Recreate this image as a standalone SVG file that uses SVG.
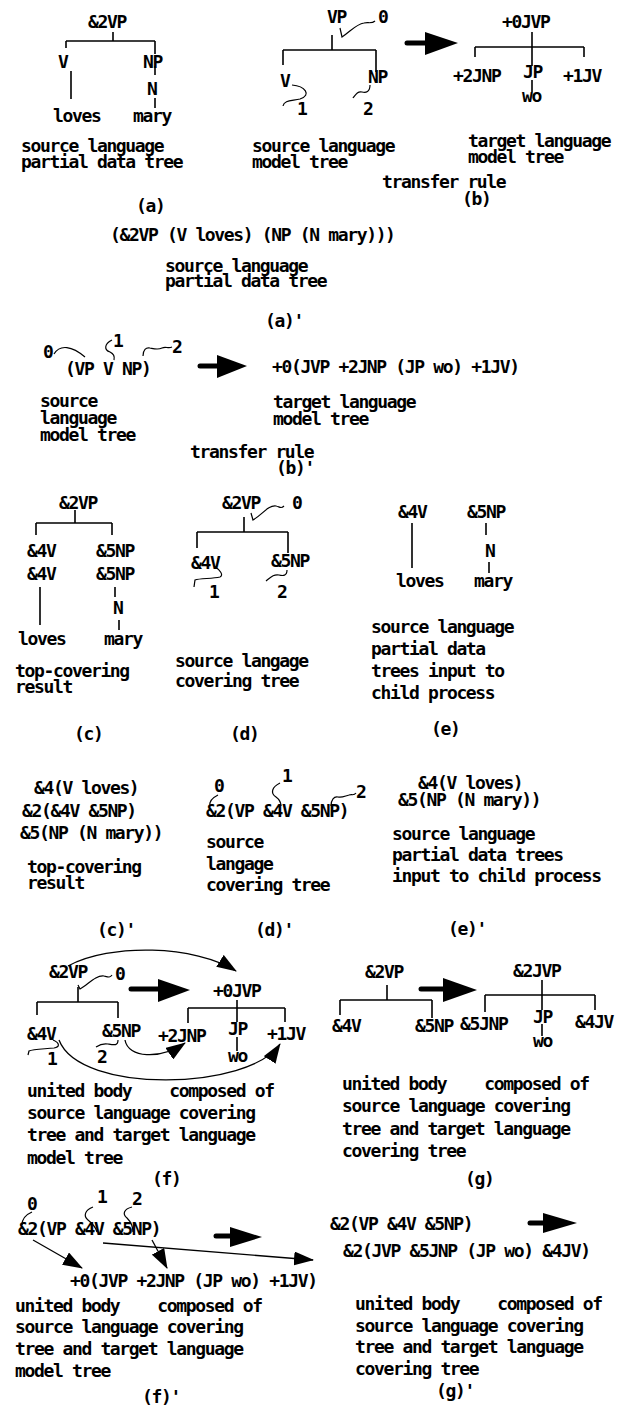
<svg xmlns="http://www.w3.org/2000/svg" width="621" height="1405" viewBox="0 0 621 1405">
<style>
.t{font-family:"DejaVu Sans Mono","Liberation Mono",monospace;font-size:18px;font-weight:bold;letter-spacing:-1.35px;fill:#000}
.l{stroke:#000;stroke-width:1.6;fill:none}
.s{stroke:#000;stroke-width:1.2;fill:none}
.sh{stroke:#000;stroke-width:5;fill:none;stroke-linecap:round}
.hd{fill:#000}
.ca{stroke:#000;stroke-width:1.3;fill:none;marker-end:url(#ah)}
</style>
<defs>
<marker id="ah" markerUnits="userSpaceOnUse" markerWidth="20" markerHeight="14" viewBox="0 0 20 14" refX="19" refY="7" orient="auto">
<path d="M0,0 L20,7 L0,14 z" fill="#000"/>
</marker>
</defs>
<rect width="621" height="1405" fill="#fff"/>

<!-- (a) -->
<g id="fig-a">
<text class="t" x="88" y="28">&amp;2VP</text>
<path class="l" d="M113,32 V41 M66,41 H155 M66,41 V48 M155,41 V54 M71,71 V99 M155,66 V75 M155,98 V108"/>
<text class="t" x="58" y="68">V</text>
<text class="t" x="143" y="68">NP</text>
<text class="t" x="147" y="95">N</text>
<text class="t" x="53" y="122">loves</text>
<text class="t" x="133" y="122">mary</text>
<text class="t" x="21" y="152">source language</text>
<text class="t" x="21" y="168">partial data tree</text>
<text class="t" x="136" y="212">(a)</text>
</g>

<!-- (b) source model tree -->
<g id="fig-b-src">
<text class="t" x="327" y="23">VP</text>
<text class="t" x="378" y="23">0</text>
<path class="s" d="M340,28 L342,37 C350,32 356,24 364,23 C368,22 372,24 375,21"/>
<path class="l" d="M332,35 V50 M283,50 H376 M283,50 V65 M376,50 V72"/>
<text class="t" x="280" y="87">V</text>
<text class="t" x="368" y="83">NP</text>
<path class="s" d="M292,85 C305,86 312,95 300,99 C292,101 284,100 283,106"/>
<text class="t" x="297" y="115">1</text>
<path class="s" d="M370,85 C370,92 366,93 362,92 C358,91 356,94 353,98"/>
<text class="t" x="363" y="115">2</text>
<text class="t" x="252" y="152">source language</text>
<text class="t" x="252" y="168">model tree</text>
</g>

<!-- (b) target model tree -->
<g id="fig-b-tgt">
<text class="t" x="502" y="28">+0JVP</text>
<path class="l" d="M532,32 V66 M532,80 V92 M475,47 H584 M475,47 V57 M584,47 V57"/>
<text class="t" x="523" y="78">JP</text>
<text class="t" x="453" y="82">+2JNP</text>
<text class="t" x="563" y="82">+1JV</text>
<text class="t" x="522" y="102">wo</text>
<text class="t" x="468" y="147">target language</text>
<text class="t" x="468" y="163">model tree</text>
<text class="t" x="382" y="188">transfer rule</text>
<text class="t" x="462" y="205">(b)</text>
</g>

<!-- (a)' -->
<g id="fig-a2">
<text class="t" x="110" y="241">(&amp;2VP (V loves) (NP (N mary)))</text>
<text class="t" x="165" y="272">source language</text>
<text class="t" x="165" y="287">partial data tree</text>
<text class="t" x="265" y="327">(a)'</text>
</g>

<!-- (b)' -->
<g id="fig-b2-src">
<text class="t" x="43" y="358">0</text>
<path class="s" d="M54,354 C60,344 72,346 85,357"/>
<text class="t" x="65" y="375">(VP V NP)</text>
<text class="t" x="113" y="347">1</text>
<path class="s" d="M112,340 C104,344 104,350 110,352 C114,354 115,356 114,360"/>
<text class="t" x="172" y="353">2</text>
<path class="s" d="M143,356 C143,350 146,347 150,348 C155,349 158,350 162,348 C166,346 168,349 172,347"/>
<text class="t" x="40" y="407">source</text>
<text class="t" x="40" y="424">language</text>
<text class="t" x="40" y="441">model tree</text>
</g>
<g id="fig-b2-tgt">
<text class="t" x="272" y="373">+0(JVP +2JNP (JP wo) +1JV)</text>
<text class="t" x="273" y="408">target language</text>
<text class="t" x="273" y="425">model tree</text>
<text class="t" x="190" y="458">transfer rule</text>
<text class="t" x="276" y="474">(b)'</text>
</g>

<!-- (c) -->
<g id="fig-c">
<text class="t" x="59" y="509">&amp;2VP</text>
<path class="l" d="M75,510 V523 M36,523 H112 M36,523 V535 M112,523 V535 M40,587 V625 M115,587 V597 M119,620 V630"/>
<text class="t" x="27" y="557">&amp;4V</text>
<text class="t" x="96" y="557">&amp;5NP</text>
<text class="t" x="27" y="580">&amp;4V</text>
<text class="t" x="96" y="580">&amp;5NP</text>
<text class="t" x="113" y="614">N</text>
<text class="t" x="18" y="645">loves</text>
<text class="t" x="104" y="645">mary</text>
<text class="t" x="15" y="677">top-covering</text>
<text class="t" x="15" y="693">result</text>
<text class="t" x="74" y="740">(c)</text>
</g>

<!-- (d) -->
<g id="fig-d">
<text class="t" x="222" y="509">&amp;2VP</text>
<text class="t" x="292" y="509">0</text>
<path class="s" d="M251,513 L253,520 C262,515 268,505 276,506 C280,507 281,509 284,506"/>
<path class="l" d="M244,517 V532 M197,532 H288 M197,532 V548 M288,532 V553"/>
<text class="t" x="191" y="569">&amp;4V</text>
<text class="t" x="271" y="567">&amp;5NP</text>
<path class="s" d="M214,566 C220,570 224,575 220,577 C212,579 200,578 195,580 L194,587"/>
<text class="t" x="209" y="598">1</text>
<path class="s" d="M287,570 C287,576 283,576 279,575 C274,574 271,577 266,581"/>
<text class="t" x="277" y="598">2</text>
<text class="t" x="175" y="667">source langage</text>
<text class="t" x="175" y="687">covering tree</text>
<text class="t" x="230" y="740">(d)</text>
</g>

<!-- (e) -->
<g id="fig-e">
<text class="t" x="398" y="518">&amp;4V</text>
<text class="t" x="467" y="518">&amp;5NP</text>
<path class="l" d="M412,523 V568 M486,523 V535 M489,562 V573"/>
<text class="t" x="485" y="557">N</text>
<text class="t" x="396" y="587">loves</text>
<text class="t" x="474" y="587">mary</text>
<text class="t" x="371" y="633">source language</text>
<text class="t" x="371" y="655">partial data</text>
<text class="t" x="371" y="677">trees input to</text>
<text class="t" x="371" y="699">child process</text>
<text class="t" x="431" y="735">(e)</text>
</g>

<!-- (c)' -->
<g id="fig-c2">
<text class="t" x="34" y="794">&amp;4(V loves)</text>
<text class="t" x="22" y="817">&amp;2(&amp;4V &amp;5NP)</text>
<text class="t" x="20" y="839">&amp;5(NP (N mary))</text>
<text class="t" x="27" y="873">top-covering</text>
<text class="t" x="27" y="889">result</text>
<text class="t" x="97" y="936">(c)'</text>
</g>

<!-- (d)' -->
<g id="fig-d2">
<text class="t" x="214" y="792">0</text>
<text class="t" x="282" y="782">1</text>
<text class="t" x="356" y="798">2</text>
<path class="s" d="M218,795 C212,798 209,802 210,806"/>
<path class="s" d="M280,783 C272,787 270,793 276,797 C280,800 281,802 281,806"/>
<path class="s" d="M331,806 C331,800 334,796 338,797 C342,798 345,796 349,795 C352,794 354,796 356,793"/>
<text class="t" x="206" y="817">&amp;2(VP &amp;4V &amp;5NP)</text>
<text class="t" x="206" y="848">source</text>
<text class="t" x="206" y="870">langage</text>
<text class="t" x="206" y="891">covering tree</text>
<text class="t" x="255" y="936">(d)'</text>
</g>

<!-- (e)' -->
<g id="fig-e2">
<text class="t" x="418" y="789">&amp;4(V loves)</text>
<text class="t" x="398" y="806">&amp;5(NP (N mary))</text>
<text class="t" x="392" y="840">source language</text>
<text class="t" x="392" y="861">partial data trees</text>
<text class="t" x="392" y="882">input to child process</text>
<text class="t" x="448" y="935">(e)'</text>
</g>

<!-- (f) source -->
<g id="fig-f-src">
<text class="t" x="49" y="978">&amp;2VP</text>
<text class="t" x="115" y="980">0</text>
<path class="s" d="M78,985 L80,989 C88,985 95,975 104,976 C108,977 110,978 112,975"/>
<path class="l" d="M78,987 V1002 M37,1002 H118 M37,1002 V1015 M118,1002 V1018"/>
<text class="t" x="27" y="1040">&amp;4V</text>
<text class="t" x="102" y="1037">&amp;5NP</text>
<path class="s" d="M53,1040 C60,1043 60,1047 54,1048 C45,1049 33,1049 29,1051 L28,1055"/>
<text class="t" x="47" y="1065">1</text>
<path class="s" d="M118,1040 C118,1046 114,1045 108,1044 C102,1043 99,1045 96,1047"/>
<text class="t" x="97" y="1063">2</text>
</g>
<!-- (f) target -->
<g id="fig-f-tgt">
<text class="t" x="213" y="997">+0JVP</text>
<path class="l" d="M237,1000 V1022 M237,1037 V1051 M188,1008 H285 M188,1008 V1023 M285,1008 V1022"/>
<text class="t" x="158" y="1042">+2JNP</text>
<text class="t" x="228" y="1035">JP</text>
<text class="t" x="267" y="1040">+1JV</text>
<text class="t" x="228" y="1062">wo</text>
</g>
<g id="fig-f-cap">
<text class="t" x="27" y="1097" xml:space="preserve">united body    composed of</text>
<text class="t" x="27" y="1119">source language covering</text>
<text class="t" x="27" y="1141">tree and target language</text>
<text class="t" x="27" y="1164">model tree</text>
<text class="t" x="152" y="1185">(f)</text>
</g>

<!-- (g) -->
<g id="fig-g-src">
<text class="t" x="365" y="978">&amp;2VP</text>
<path class="l" d="M387,985 V1000 M340,1000 H432 M340,1000 V1015 M432,1000 V1018"/>
<text class="t" x="332" y="1032">&amp;4V</text>
<text class="t" x="415" y="1032">&amp;5NP</text>
</g>
<g id="fig-g-tgt">
<text class="t" x="513" y="977">&amp;2JVP</text>
<path class="l" d="M542,980 V1010 M542,1024 V1036 M485,995 H595 M485,995 V1012 M595,995 V1010"/>
<text class="t" x="460" y="1030">&amp;5JNP</text>
<text class="t" x="533" y="1023">JP</text>
<text class="t" x="575" y="1028">&amp;4JV</text>
<text class="t" x="533" y="1047">wo</text>
</g>
<g id="fig-g-cap">
<text class="t" x="342" y="1090" xml:space="preserve">united body    composed of</text>
<text class="t" x="342" y="1112">source language covering</text>
<text class="t" x="342" y="1135">tree and target language</text>
<text class="t" x="342" y="1157">covering tree</text>
<text class="t" x="465" y="1185">(g)</text>
</g>

<!-- (f)' -->
<g id="fig-f2-src">
<text class="t" x="27" y="1210">0</text>
<text class="t" x="97" y="1203">1</text>
<text class="t" x="132" y="1205">2</text>
<path class="s" d="M32,1212 C25,1215 22,1219 22,1225"/>
<path class="s" d="M93,1207 C85,1210 83,1216 88,1220 C93,1224 96,1228 97,1232"/>
<path class="s" d="M132,1207 C124,1209 122,1214 127,1218 C131,1222 133,1227 133,1232"/>
<text class="t" x="18" y="1235">&amp;2(VP &amp;4V &amp;5NP)</text>
</g>
<g id="fig-f2-tgt">
<text class="t" x="70" y="1287">+0(JVP +2JNP (JP wo) +1JV)</text>
</g>
<g id="fig-f2-cap">
<text class="t" x="15" y="1312" xml:space="preserve">united body    composed of</text>
<text class="t" x="15" y="1333">source language covering</text>
<text class="t" x="15" y="1355">tree and target language</text>
<text class="t" x="15" y="1377">model tree</text>
<text class="t" x="142" y="1403">(f)'</text>
</g>

<!-- (g)' -->
<g id="fig-g2">
<text class="t" x="330" y="1230">&amp;2(VP &amp;4V &amp;5NP)</text>
<text class="t" x="343" y="1257">&amp;2(JVP &amp;5JNP (JP wo) &amp;4JV)</text>
<text class="t" x="355" y="1310" xml:space="preserve">united body    composed of</text>
<text class="t" x="355" y="1332">source language covering</text>
<text class="t" x="355" y="1353">tree and target language</text>
<text class="t" x="355" y="1375">covering tree</text>
<text class="t" x="436" y="1397">(g)'</text>
</g>

<!-- connectors -->
<g id="connectors">
<path class="sh" d="M407,43 H427"/><path class="hd" d="M425,32 L458,43 L425,55 z"/>
<path class="sh" d="M200,366 H219"/><path class="hd" d="M217,355 L247,366 L217,378 z"/>
<path class="sh" d="M131,989 H160"/><path class="hd" d="M158,979 L190,990 L158,1002 z"/>
<path class="sh" d="M421,989 H445"/><path class="hd" d="M443,978 L477,990 L443,1002 z"/>
<path class="sh" d="M216,1236 H232"/><path class="hd" d="M230,1227 L262,1237 L230,1247 z"/>
<path class="sh" d="M530,1223 H545"/><path class="hd" d="M543,1213 L577,1223 L543,1233 z"/>
<path class="ca" d="M68,966 C110,943 195,945 236,971"/>
<path class="ca" d="M125,1040 C128,1058 160,1060 185,1043"/>
<path class="ca" d="M59,1040 C80,1095 250,1090 280,1044"/>
<path class="ca" d="M33,1240 L82,1268"/>
<path class="ca" d="M103,1243 L313,1260"/>
<path class="ca" d="M152,1240 L167,1268"/>
</g>
</svg>
